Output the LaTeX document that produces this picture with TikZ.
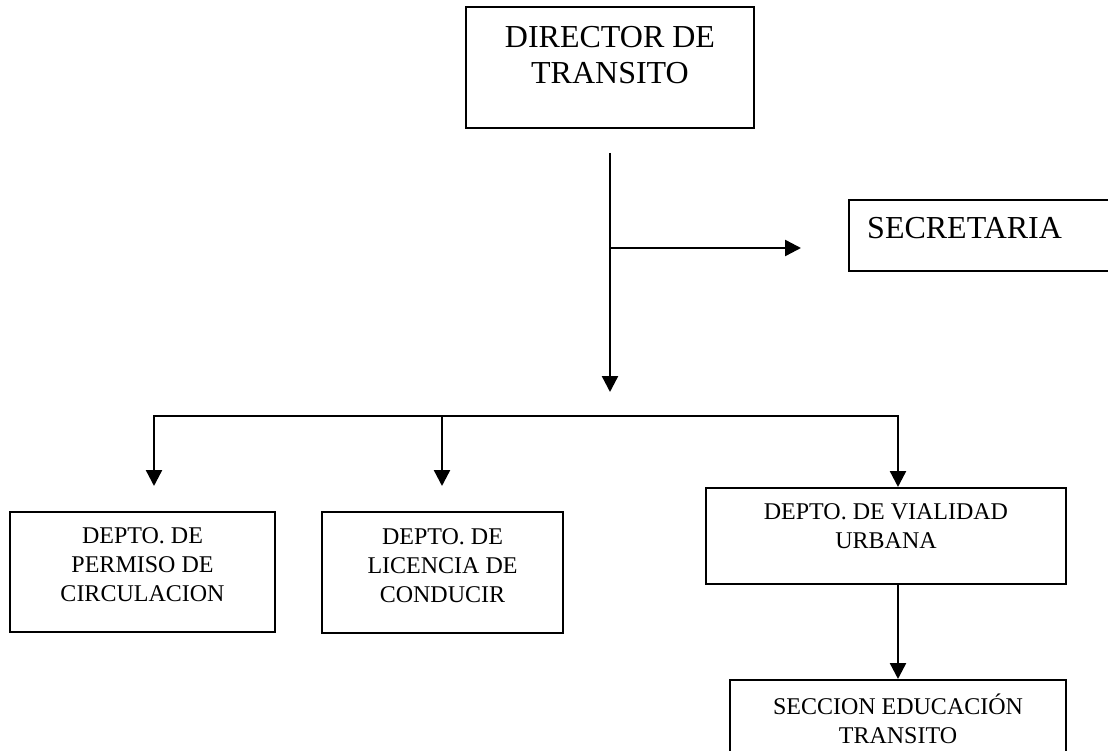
\documentclass[tikz,border=0pt]{standalone}
\usepackage{fontspec}
\setmainfont{Liberation Serif}
\usetikzlibrary{arrows.meta,positioning}
\newcommand\orgbigfont{\fontsize{32}{36}\selectfont}
\newcommand\orgsmallfont{\fontsize{24}{29}\selectfont}
\newcommand\orglinewidth{2.4pt}
\newcommand\orgtipsize{16pt}
\tikzset{
  orgbox/.style={draw, line width=2pt, inner sep=0pt},
  orgtext/.style={inner sep=0pt, align=center, anchor=north},
  orgline/.style={line width=\orglinewidth, line cap=rect},
  orgarrow/.style={line width=\orglinewidth, -{Triangle[length=\orgtipsize, width=\orgtipsize]}},
}

\begin{document}
\begin{tikzpicture}[x=1pt, y=1pt]
    \clip (0, 0) rectangle (1108, -751) ;
    \node[orgbox, minimum width=288pt, minimum height=121pt] (dir) at (610, -67.5) {} ;
    \node[orgbox, minimum width=281pt, minimum height=71pt] (sec) at (989.5, -235.5) {} ;
    \node[orgbox, minimum width=265pt, minimum height=120pt] (perm) at (142.5, -572) {} ;
    \node[orgbox, minimum width=241pt, minimum height=121pt] (lic) at (442.5, -572.5) {} ;
    \node[orgbox, minimum width=360pt, minimum height=96pt] (vial) at (886, -536) {} ;
    \node[orgbox, minimum width=336pt, minimum height=96pt] (educ) at (898, -728) {} ;

    \node[orgtext, font=\orgbigfont] (dirtext) at ([yshift=-20pt]dir.north) {DIRECTOR DE\\TRANSITO} ;
    \node[orgtext, font=\orgbigfont, anchor=north west, align=left] (sectext) at ([xshift=19pt, yshift=-18pt]sec.north west) {SECRETARIA} ;
    \node[orgtext, font=\orgsmallfont] (permtext) at ([yshift=-16pt]perm.north) {DEPTO. DE\\PERMISO DE\\CIRCULACION} ;
    \node[orgtext, font=\orgsmallfont] (lictext) at ([yshift=-17pt]lic.north) {DEPTO. DE\\LICENCIA DE\\CONDUCIR} ;
    \node[orgtext, font=\orgsmallfont] (vialtext) at ([yshift=-16pt]vial.north) {DEPTO. DE VIALIDAD\\URBANA} ;
    \node[orgtext, font=\orgsmallfont] (eductext) at ([yshift=-15pt]educ.north) {SECCION EDUCACIÓN\\TRANSITO} ;

    \coordinate (trunktop) at ([yshift=-24pt]dir.south) ;
    \coordinate (trunkend) at (610, -392) ;
    \coordinate (tee) at (610, -248) ;
    \coordinate (sectip) at ([xshift=-47pt]sec.west |- tee) ;
    \coordinate (busleft) at (154, -416) ;
    \coordinate (busmid) at (442, -416) ;
    \coordinate (busright) at (898, -416) ;

    \draw[orgarrow] (trunktop) -- (trunkend) ;
    \draw[orgarrow] (tee) -- (sectip) ;
    \draw[orgline] (busleft) -- (busright) ;
    \draw[orgarrow] (busleft) -- ([yshift=25pt]busleft |- perm.north) ;
    \draw[orgarrow] (busmid) -- ([yshift=25pt]busmid |- lic.north) ;
    \draw[orgarrow] (busright) -- (busright |- vial.north) ;
    \draw[orgarrow] (vial.south -| educ.north) -- (educ.north) ;
\end{tikzpicture}
\end{document}
